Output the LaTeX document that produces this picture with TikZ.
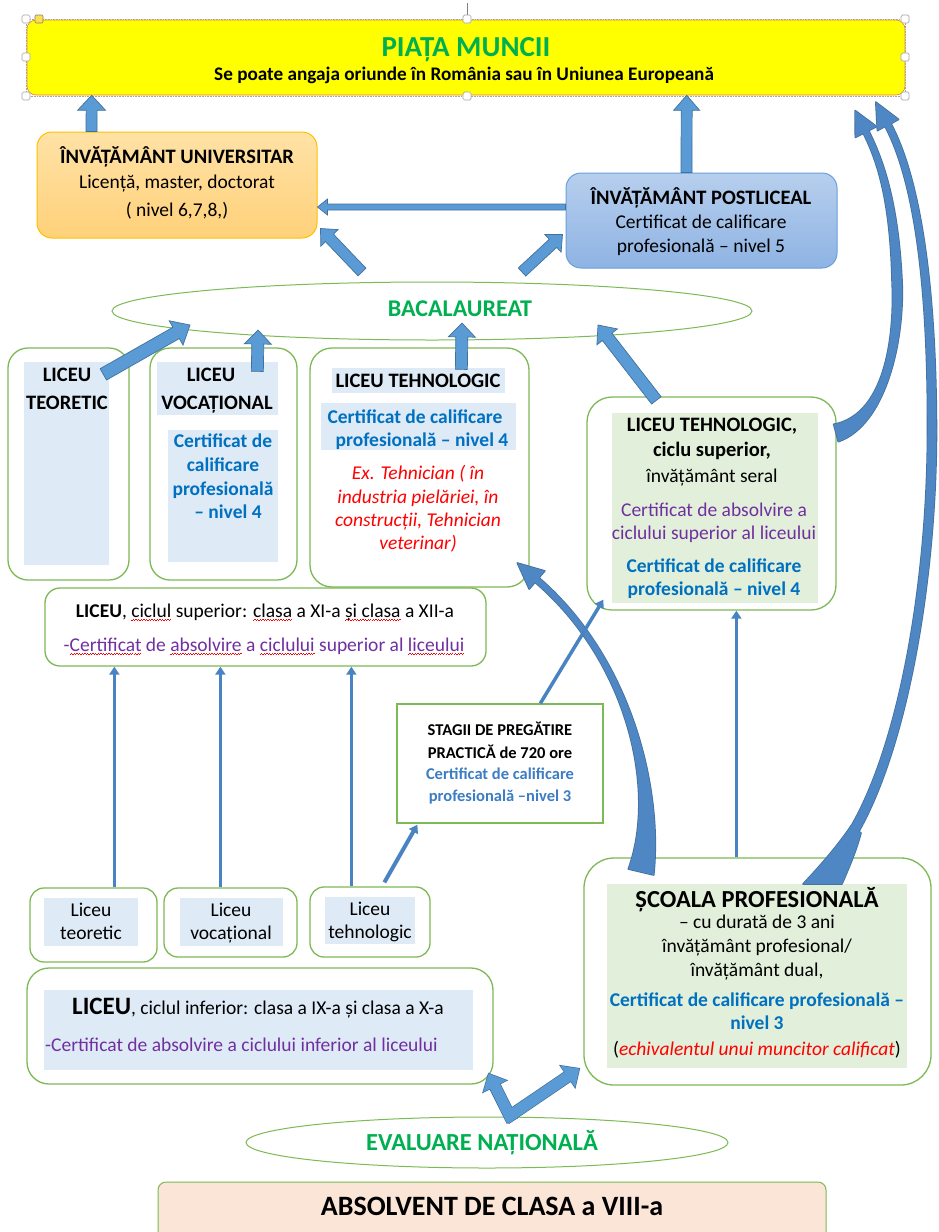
\documentclass[tikz,border=0pt]{standalone}
\usepackage{fontspec}
\setmainfont{Carlito}
\usetikzlibrary{calc,arrows.meta,shapes.geometric,fit}
\definecolor{gtxt}{HTML}{00B050}
\definecolor{btxt}{HTML}{0070C0}
\definecolor{stxt}{HTML}{3C7DC4}
\definecolor{ptxt}{HTML}{7030A0}
\definecolor{rtxt}{HTML}{FF0000}
\definecolor{gline}{HTML}{7DB954}
\definecolor{lblue}{HTML}{DEEAF6}
\definecolor{lgreen}{HTML}{E2EFDA}
\definecolor{peach}{HTML}{FBE5D6}
\definecolor{afill}{HTML}{5B9BD5}
\definecolor{adraw}{HTML}{41719C}
\definecolor{cfill}{HTML}{4F87C4}
\definecolor{tfill}{HTML}{4A83C2}
\definecolor{ylw}{HTML}{FFFF00}
\definecolor{orng}{HTML}{ED7D31}
\definecolor{unitop}{HTML}{FFE2A6}
\definecolor{unibot}{HTML}{FFD17A}
\definecolor{uniline}{HTML}{FFC000}
\definecolor{posttop}{HTML}{B7CFEE}
\definecolor{postbot}{HTML}{8EB3E3}
\definecolor{postline}{HTML}{6A9FDB}
\definecolor{hgray}{HTML}{A6A6A6}
\newcommand\fsz[1]{\fontsize{#1}{#1}\selectfont}
\newcommand\wv{\hbox{\textcolor{red}{\rule[0pt]{1.3pt}{0.8pt}\rule[1pt]{1.3pt}{0.8pt}}}}
\newcommand\sq[2]{\setbox0\hbox{\textcolor{#1}{#2}}\rlap{\copy0}\raisebox{-4pt}[0pt][0pt]{\hbox to \wd0{\xleaders\wv\hfill}}}
\newcommand\barrow[6]{%
  \path (#1) coordinate (ba-s) (#2) coordinate (ba-e);
  \path ($(ba-e)!#5!(ba-s)$) coordinate (ba-h);
  \filldraw[fill=afill, draw=adraw, line width=0.7pt, line join=miter, #6]
    ($(ba-s)!#3!90:(ba-e)$) -- ($(ba-h)!#3!90:(ba-e)$) -- ($(ba-h)!#4!90:(ba-e)$) -- (ba-e)
    -- ($(ba-h)!#4!-90:(ba-e)$) -- ($(ba-h)!#3!-90:(ba-e)$) -- ($(ba-s)!#3!-90:(ba-e)$) -- cycle;
}
\def\curveA{(628.3,869) .. controls (657,790) and (627.4,661.5) .. (535,582.3) -- (529.2,589.1) -- (517.3,563) -- (544.8,570.9) -- (539,577.7) .. controls (632.6,658.5) and (663,790) .. (653.7,875) -- cycle}
\def\curveB{(822.5,864.5) .. controls (891.5,796.5) and (927.5,600) .. (927.5,430) .. controls (928,260) and (909,171.6) .. (885,126.4) -- (877.4,130.6) -- (875.8,102.1) -- (898.6,119.4) -- (891,123.6) .. controls (915,168.4) and (936,260) .. (936.5,430) .. controls (936.5,600) and (898.5,803.5) .. (829.5,871.5) -- cycle}
\def\curveBtail{(803,884) .. controls (818,868) and (836,848) .. (851,826) -- (861,833) .. controls (856,852) and (848,870) .. (842,884) -- cycle}
\def\curveC{(833.7,424.3) .. controls (883.7,415) and (895,340) .. (892,280) .. controls (890,200) and (877.3,161.4) .. (863.3,133.4) -- (855.3,137.4) -- (855.2,110.6) -- (876.7,126.6) -- (868.7,130.6) .. controls (882.7,158.6) and (898,200) .. (902,280) .. controls (905,340) and (886.3,425) .. (838.3,441.7) -- cycle}
\begin{document}
\begin{tikzpicture}[x=1pt,y=-1pt,
  lbl/.style={inner sep=0pt, anchor=base, font=\fsz{19.5}},
  hd/.style={lbl, font=\fsz{20.5}\bfseries},
  cert/.style={lbl, font=\fsz{19.5}\bfseries, text=btxt},
  rit/.style={lbl, font=\fsz{19.5}\itshape, text=rtxt},
  pur/.style={lbl, text=ptxt},
  gbox/.style={draw=gline, line width=1.3pt, fill=white, inner sep=0pt},
  thinarr/.style={draw=tfill, line width=3pt, -{Triangle[width=10pt,length=8pt]}},
  cborder/.style={draw=adraw, line width=1.6pt, line join=round},
  cbody/.style={fill=cfill},
]
\useasboundingbox (0,0) rectangle (938,1232);
\fill[white] (0,0) rectangle (938,1232);

% ---------- PIATA MUNCII ----------
\node[fit={(27,20) (905,95)}, inner sep=0pt, fill=ylw, draw=orng, line width=0.6pt, rounded corners=9pt] (piata) {};
\draw[hgray, densely dotted, line width=0.6pt] (26,19) rectangle (905,96);
\draw[gray, line width=0.5pt] (467,15) -- (467,3);
\foreach \hx/\hy in {26/19, 467/19, 905/19, 26/57, 905/57, 26/96, 467/96, 905/96}
  \draw[hgray, fill=white, rounded corners=1.5pt, line width=0.7pt] (\hx-4,\hy-4) rectangle (\hx+4,\hy+4);
\draw[gray, fill=yellow!70!orange!70, rounded corners=1pt, line width=0.6pt] (35,15) rectangle (43,23);
\node[lbl, font=\fsz{29}\bfseries, text=gtxt] (tpiata) at (466,56) {PIAȚA MUNCII};
\node[lbl, font=\fsz{19.2}\bfseries] (tangaj) at (464,80) {Se poate angaja oriunde în România sau în Uniunea Europeană};

% ---------- UNIVERSITAR ----------
\node[fit={(37,132) (317,238)}, inner sep=0pt, top color=unitop, bottom color=unibot, draw=uniline, line width=1pt, rounded corners=15pt] (univ) {};
\node[hd] (tuniv1) at (177,163) {ÎNVĂȚĂMÂNT UNIVERSITAR};
\node[lbl] (tuniv2) at (177,188) {Licență, master, doctorat};
\node[lbl] (tuniv3) at (177,216) {( nivel 6,7,8,)};

% ---------- POSTLICEAL ----------
\node[fit={(566,173) (837,268)}, inner sep=0pt, top color=posttop, bottom color=postbot, draw=postline, line width=1pt, rounded corners=15pt] (post) {};
\node[hd] (tpost1) at (701,204) {ÎNVĂȚĂMÂNT POSTLICEAL};
\node[lbl] (tpost2) at (701,228) {Certificat de calificare};
\node[lbl] (tpost3) at (701,252) {profesională – nivel 5};

% ---------- BACALAUREAT ----------
\node[ellipse, draw=gline, line width=1pt, minimum width=640pt, minimum height=58pt, inner sep=0pt] (bac) at (432,311) {};
\node[lbl, font=\fsz{24}\bfseries, text=gtxt] (tbac) at (460,316) {BACALAUREAT};

% ---------- LICEU TEORETIC ----------
\node[gbox, rounded corners=20pt, fit={(8,348) (129,580)}] (teo) {};
\fill[lblue] (24,362) rectangle (109,565);
\node[hd] (tteo1) at (67,381) {LICEU};
\node[hd] (tteo2) at (67,409) {TEORETIC};

% ---------- LICEU VOCATIONAL ----------
\node[gbox, rounded corners=20pt, fit={(150,348) (297,580)}] (voc) {};
\fill[lblue] (157,362) rectangle (278,415);
\fill[lblue] (168,430) rectangle (278,562);
\node[hd] (tvoc1) at (211,381) {LICEU};
\node[hd] (tvoc2) at (217,409) {VOCAȚIONAL};
\node[cert] (tvoc3) at (223,447) {Certificat de};
\node[cert] (tvoc4) at (223,471) {calificare};
\node[cert] (tvoc5) at (223,495) {profesională};
\node[cert] (tvoc6) at (228,518) {– nivel 4};

% ---------- LICEU TEHNOLOGIC ----------
\node[gbox, rounded corners=22pt, fit={(310,348) (529,587)}] (teh) {};
\fill[lblue] (332,368) rectangle (505,393);
\fill[lblue] (321,403) rectangle (516,450);
\node[hd] (tteh1) at (418,387) {LICEU TEHNOLOGIC};
\node[cert] (tteh2) at (415,423) {Certificat de calificare};
\node[cert] (tteh3) at (422,446) {profesională – nivel 4};
\node[rit] (tteh4) at (418,479) {Ex. Tehnician ( în};
\node[rit] (tteh5) at (418,503) {industria pielăriei, în};
\node[rit] (tteh6) at (418,526) {construcții, Tehnician};
\node[rit] (tteh7) at (418,549) {veterinar)};

% ---------- LICEU TEHNOLOGIC ciclu superior ----------
\node[gbox, rounded corners=25pt, fit={(587,397) (836,610)}] (tsup) {};
\fill[lgreen] (612,413) rectangle (818,603);
\node[hd] (ttsup1) at (712,431) {LICEU TEHNOLOGIC,};
\node[hd] (ttsup2) at (712,456) {ciclu superior,};
\node[lbl] (ttsup3) at (712,482) {învățământ seral};
\node[pur] (ttsup4) at (714,516) {Certificat de absolvire a};
\node[pur] (ttsup5) at (714,539) {ciclului superior al liceului};
\node[cert] (ttsup6) at (714,572) {Certificat de calificare};
\node[cert] (ttsup7) at (714,595) {profesională – nivel 4};

% ---------- LICEU ciclul superior ----------
\node[gbox, rounded corners=15pt, fit={(45,588) (486,666)}] (lsup) {};
\node[lbl] (tlsup1) at (265,617) {\textbf{LICEU}, \sq{black}{ciclul} superior: \sq{black}{clasa} a XI-a \sq{black}{și clasa} a XII-a};
\node[pur] (tlsup2) at (264,651) {-\sq{ptxt}{Certificat} de \sq{ptxt}{absolvire} a \sq{ptxt}{ciclului} superior al \sq{ptxt}{liceului}};

% ---------- STAGII ----------
\node[gbox, fit={(397,704) (603,823)}] (stag) {};
\node[lbl, font=\fsz{16.5}\bfseries] (tstag1) at (500,735) {STAGII DE PREGĂTIRE};
\node[lbl, font=\fsz{16.5}\bfseries] (tstag2) at (500,758) {PRACTICĂ de 720 ore};
\node[lbl, font=\fsz{16.5}\bfseries, text=stxt] (tstag3) at (500,779) {Certificat de calificare};
\node[lbl, font=\fsz{16.5}\bfseries, text=stxt] (tstag4) at (500,801) {profesională –nivel 3};

% ---------- small lyceum boxes ----------
\node[gbox, rounded corners=14pt, fit={(30,888) (157,962)}] (steo) {};
\fill[lblue] (44,898) rectangle (138,946);
\node[lbl] (tsteo1) at (91,916) {Liceu};
\node[lbl] (tsteo2) at (91,939) {teoretic};
\node[gbox, rounded corners=14pt, fit={(164,888) (297,957)}] (svoc) {};
\fill[lblue] (180,898) rectangle (283,946);
\node[lbl] (tsvoc1) at (231,916) {Liceu};
\node[lbl] (tsvoc2) at (231,939) {vocațional};
\node[gbox, rounded corners=14pt, fit={(310,887) (430,957)}] (steh) {};
\fill[lblue] (325,897) rectangle (415,944);
\node[lbl] (tsteh1) at (370,915) {Liceu};
\node[lbl] (tsteh2) at (370,938) {tehnologic};

% ---------- LICEU ciclul inferior ----------
\node[gbox, rounded corners=22pt, fit={(27,968) (493,1084)}] (linf) {};
\fill[lblue] (44,990) rectangle (473,1070);
\node[lbl] (tlinf1) at (258,1014) {{\fsz{25}\bfseries LICEU}, ciclul inferior: clasa a IX-a și clasa a X-a};
\node[pur, anchor=base west] (tlinf2) at (45,1051) {-Certificat de absolvire a ciclului inferior al liceului};

% ---------- SCOALA PROFESIONALA ----------
\node[gbox, rounded corners=30pt, fit={(584,858) (931,1085)}] (scoala) {};
\fill[lgreen] (607,884) rectangle (907,1068);
\node[lbl, font=\fsz{24.5}\bfseries] (tsc1) at (757,907) {ȘCOALA PROFESIONALĂ};
\node[lbl] (tsc2) at (757,928) {– cu durată de 3 ani};
\node[lbl] (tsc3) at (757,952) {învățământ profesional/};
\node[lbl] (tsc4) at (757,976) {învățământ dual,};
\node[cert] (tsc5) at (757,1006) {Certificat de calificare profesională –};
\node[cert] (tsc6) at (757,1029) {nivel 3};
\node[lbl] (tsc7) at (757,1055) {(\textcolor{rtxt}{\itshape echivalentul unui muncitor calificat})};

% ---------- EVALUARE / ABSOLVENT ----------
\node[ellipse, draw=gline, line width=1pt, minimum width=482pt, minimum height=51pt, inner sep=0pt] (eval) at (487,1142.5) {};
\node[lbl, font=\fsz{24.5}\bfseries, text=gtxt] (teval) at (482,1150) {EVALUARE NAȚIONALĂ};
\node[fit={(158,1182) (826,1245)}, inner sep=0pt, fill=peach, draw=gline, line width=1pt, rounded corners=8pt] (absol) {};
\node[lbl, font=\fsz{28}\bfseries] (tabsol) at (492,1215) {ABSOLVENT DE CLASA a VIII-a};

% ---------- curved arrows ----------
\draw[cborder] \curveA;
\draw[cborder] \curveB;
\draw[cborder] \curveBtail;
\draw[cborder] \curveC;
\fill[cbody] \curveA;
\fill[cbody] \curveB;
\fill[cbody] \curveBtail;
\fill[cbody] \curveC;

% ---------- block arrows ----------
\barrow{$(univ.north west)+(55,0)$}{$(piata.south west)+(65,0)$}{5.5pt}{14pt}{15pt}{}
\barrow{$(post.north west)+(121,0)$}{$(piata.south west)+(660,0)$}{5.5pt}{13pt}{15pt}{}
\barrow{$(post.west)+(0,-13.5)$}{$(univ.east)+(0,22)$}{3pt}{8pt}{10pt}{}
\barrow{$(bac.center)+(-70,-39)$}{$(univ.south east)+(3,-10)$}{5.5pt}{12pt}{13pt}{}
\barrow{$(bac.center)+(90,-39)$}{$(post.south west)+(-3,-34)$}{5.5pt}{12pt}{13pt}{}
\barrow{$(teo.north west)+(96,27)$}{$(bac.center)+(-242,14)$}{6.5pt}{14pt}{16pt}{}
\barrow{$(voc.north west)+(108,24)$}{$(bac.center)+(-174,19)$}{6pt}{13.5pt}{14pt}{}
\barrow{$(teh.north west)+(152,22)$}{$(bac.center)+(30,12)$}{6pt}{13.5pt}{14pt}{}
\barrow{$(tsup.north west)+(70,4)$}{$(bac.center)+(166,14)$}{6pt}{13pt}{15pt}{}
% V arrow from evaluare
\coordinate (vtx) at ($(eval.north)+(23,-1)$);
\barrow{$(vtx)+(2,5)$}{$(linf.south east)+(-5,-11)$}{5.5pt}{13pt}{14pt}{fill=adraw, line width=1.4pt}
\barrow{$(vtx)+(-4,3)$}{$(scoala.south west)+(-4,-17)$}{5.5pt}{13pt}{14pt}{fill=adraw, line width=1.4pt}
\barrow{$(vtx)+(2,5)$}{$(linf.south east)+(-5,-11)$}{5.5pt}{13pt}{14pt}{draw=none}
\barrow{$(vtx)+(-4,3)$}{$(scoala.south west)+(-4,-17)$}{5.5pt}{13pt}{14pt}{draw=none}

% ---------- thin arrows ----------
\draw[thinarr] ($(steo.north west)+(85,0)$) -- ($(lsup.south west)+(70,0)$);
\draw[thinarr] ($(svoc.north west)+(57,0)$) -- ($(lsup.south west)+(176,0)$);
\draw[thinarr] ($(steh.north west)+(42,0)$) -- ($(lsup.south west)+(307,0)$);
\draw[thinarr] ($(scoala.north west)+(153,0)$) -- ($(tsup.south west)+(150,0)$);
\draw[thinarr, line width=4pt] ($(steh.north west)+(75,-4)$) -- ($(stag.south west)+(21,1)$);
\draw[thinarr, line width=3.5pt] ($(stag.north west)+(144,0)$) -- ($(tsup.south west)+(17,-11)$);
\end{tikzpicture}
\end{document}
